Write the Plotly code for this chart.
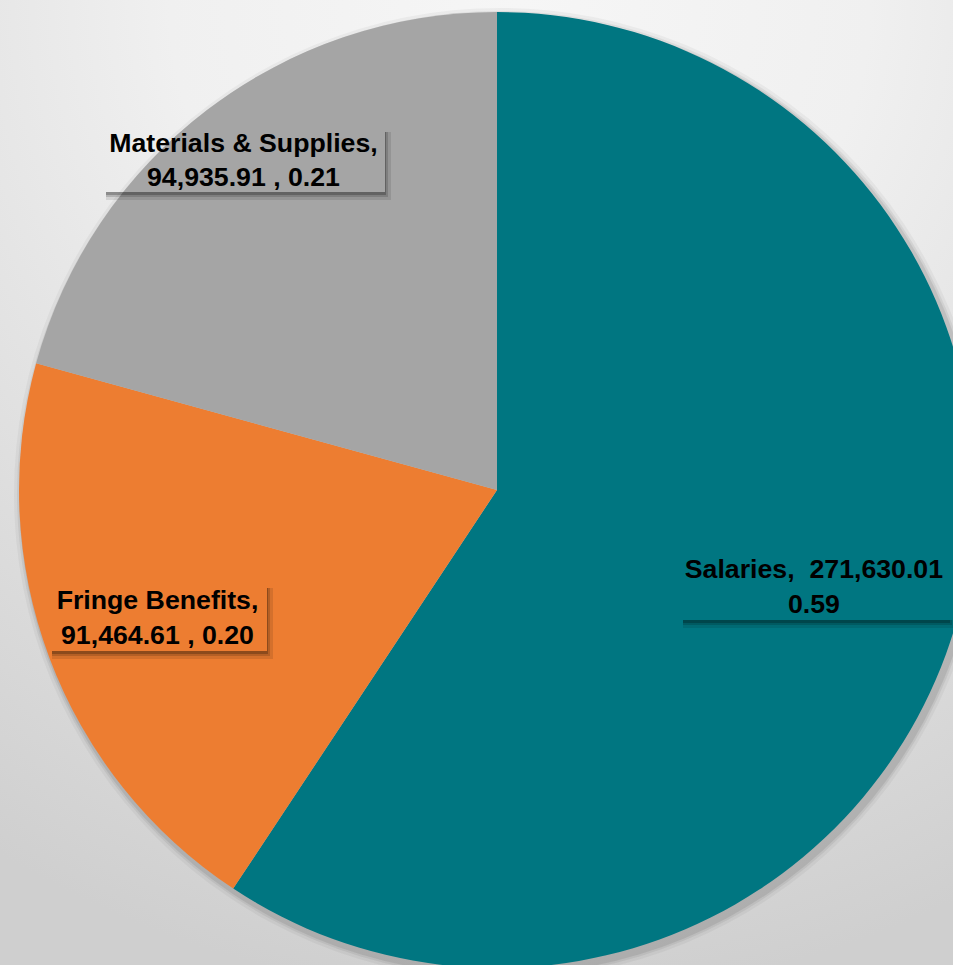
import base64
import plotly.graph_objects as go

# ---- data ----
categories = ["Salaries", "Fringe Benefits", "Materials & Supplies"]
amounts = [271630.01, 91464.61, 94935.91]
colors = ["#007681", "#ED7D31", "#A5A5A5"]

total = sum(amounts)
shares = [a / total for a in amounts]

# ---- canvas geometry ----
W, H = 1000, 970
ML, MR, MT, MB = 18, 24, 12, 2
PW, PH = W - ML - MR, H - MT - MB


def px(x):
    return (x - ML) / PW


def py(y):
    return 1 - (y - MT) / PH


fig = go.Figure()
fig.add_trace(go.Pie(
    labels=categories,
    values=amounts,
    marker=dict(colors=colors, line=dict(width=0)),
    sort=False,
    direction="clockwise",
    rotation=0,
    textinfo="none",
    hoverinfo="label+value+percent",
    showlegend=False,
))

# label boxes (pixel boxes: left, top, right, bottom)
boxes = {
    "Materials & Supplies": (102, 128, 385, 192),
    "Fringe Benefits": (48, 584, 267, 651),
    "Salaries": (679, 553, 949, 620),
}

annotations = []
shapes = []

# soft pie shadow
cx, cy, R = 497, 490, 478
for off, a in [(8, 0.04), (5, 0.06), (3, 0.08)]:
    shapes.append(dict(type="circle", xref="paper", yref="paper",
                       x0=px(cx - R - off + 3), x1=px(cx + R + off + 3),
                       y0=py(cy + R + off + 4), y1=py(cy - R - off + 4),
                       fillcolor=f"rgba(0,0,0,{a})", line=dict(width=0), layer="below"))

for name, amt, sh in zip(categories, amounts, shares):
    nm = name.replace("&", "&amp;")
    if name == "Salaries":
        txt = f"{nm},  {amt:,.2f}<br>{sh:.2f}"
    else:
        txt = f"{nm},<br>{amt:,.2f} , {sh:.2f}"
    x0, y0, x1, y1 = boxes[name]
    # shadows bottom / right
    for d, a in [(8, 0.10), (5, 0.15), (3, 0.22)]:
        shapes.append(dict(type="rect", xref="paper", yref="paper",
                           x0=px(x0 + 4), x1=px(x1 + d - 2), y0=py(y1 + d), y1=py(y1),
                           fillcolor=f"rgba(0,0,0,{a})", line=dict(width=0), layer="above"))
        if name != "Salaries":
            shapes.append(dict(type="rect", xref="paper", yref="paper",
                               x0=px(x1), x1=px(x1 + d - 2), y0=py(y1), y1=py(y0 + 4),
                               fillcolor=f"rgba(0,0,0,{a})", line=dict(width=0), layer="above"))
    annotations.append(dict(
        x=px((x0 + x1) / 2), y=py((y0 + y1) / 2), xref="paper", yref="paper",
        xanchor="center", yanchor="middle",
        text=txt, showarrow=False, align="center",
        width=x1 - x0, height=y1 - y0, borderpad=0,
        bgcolor="rgba(0,0,0,0)",
        font=dict(family="Liberation Sans, Arial, sans-serif", size=26.7, color="black", weight="bold"),
    ))

svg = (
    f'<svg xmlns="http://www.w3.org/2000/svg" width="{W}" height="{H}" viewBox="0 0 {W} {H}" preserveAspectRatio="none">'
    '<defs><radialGradient id="g" gradientUnits="userSpaceOnUse" cx="520" cy="0" r="1000">'
    '<stop offset="0" stop-color="#f6f6f6"/><stop offset="0.35" stop-color="#f0f0f0"/>'
    '<stop offset="1" stop-color="#cfcfcf"/></radialGradient></defs>'
    f'<rect x="0" y="0" width="{W}" height="{H}" fill="url(#g)"/></svg>'
)
src = "data:image/svg+xml;base64," + base64.b64encode(svg.encode()).decode()

fig.update_layout(
    width=W, height=H,
    margin=dict(l=ML, r=MR, t=MT, b=MB, pad=0),
    paper_bgcolor="#e4e4e4",
    plot_bgcolor="rgba(0,0,0,0)",
    annotations=annotations,
    shapes=shapes,
    images=[dict(source=src, xref="paper", yref="paper",
                 x=-ML / PW, y=1 + MT / PH, sizex=W / PW, sizey=H / PH,
                 xanchor="left", yanchor="top", sizing="stretch", layer="below")],
)

fig.write_html("out.html", config={"displayModeBar": False},
               post_script="document.body.style.margin='0';document.body.style.overflow='hidden';")
